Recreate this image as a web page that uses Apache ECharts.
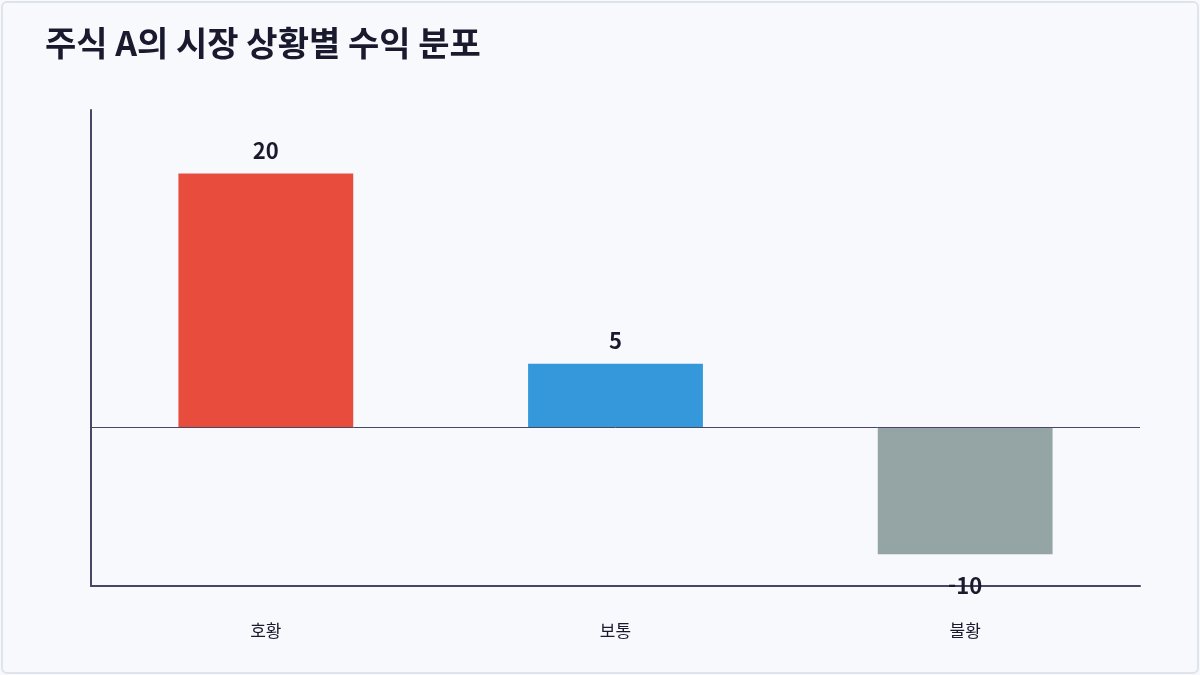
<!DOCTYPE html>
<html lang="ko">
<head>
<meta charset="UTF-8" />
<title>주식 A의 시장 상황별 수익 분포</title>
<style>
    html, body { margin: 0; padding: 0; background: #f8f9fd; }
    .frame {
        position: absolute; left: 1px; top: 1px; width: 1198px; height: 673px;
        box-sizing: border-box; border: 2px solid #dfe4ec; border-radius: 6px;
        background: #f8f9fd;
    }
    #chart { position: absolute; left: 0; top: 0; width: 1200px; height: 675px; }
</style>
</head>
<body>
<div class="frame"></div>
<div id="chart"></div>
<script src="https://cdn.jsdelivr.net/npm/echarts@6/dist/echarts.min.js"></script>
<script>
    // 시장 상황별 수익
    var categories = ['호황', '보통', '불황'];
    var returns = [20, 5, -10];
    var barColors = ['#e74c3c', '#3498db', '#95a5a6'];

    var chart = echarts.init(document.getElementById('chart'));
    var font = '"Noto Sans CJK KR", "Noto Sans", sans-serif';
    var axisColor = '#4a4566';

    var data = returns.map(function (v, i) {
        return {
            value: v,
            itemStyle: { color: barColors[i] },
            label: v < 0 ? { position: 'bottom', distance: 20 } : { position: 'top', distance: 12 }
        };
    });

    chart.setOption({
        backgroundColor: 'transparent',
        title: {
            text: '주식 A의 시장 상황별 수익 분포',
            left: 40, top: 21,
            textStyle: { fontFamily: font, fontSize: 34, fontWeight: 'bold', color: '#1a1a2e' }
        },
        grid: { left: 91, right: 60, top: 110, bottom: 89 },
        xAxis: {
            type: 'category',
            data: categories,
            axisLine: { onZero: false, lineStyle: { color: axisColor, width: 2 } },
            axisTick: { show: false },
            axisLabel: { margin: 36, fontFamily: font, fontSize: 17, color: '#1a1a2e' }
        },
        yAxis: {
            type: 'value',
            min: -12.5, max: 25,
            axisLine: { show: true, lineStyle: { color: axisColor, width: 2 } },
            axisTick: { show: false },
            axisLabel: { show: false },
            splitLine: { show: false }
        },
        series: [{
            type: 'bar',
            barWidth: '50%',
            data: data,
            label: {
                show: true,
                fontFamily: font, fontSize: 22, fontWeight: 'bold', color: '#1a1a2e'
            },
            markLine: {
                silent: true,
                symbol: 'none',
                label: { show: false },
                lineStyle: { color: axisColor, width: 1, type: 'solid' },
                data: [{ yAxis: 0 }]
            }
        }]
    });
</script>
</body>
</html>
